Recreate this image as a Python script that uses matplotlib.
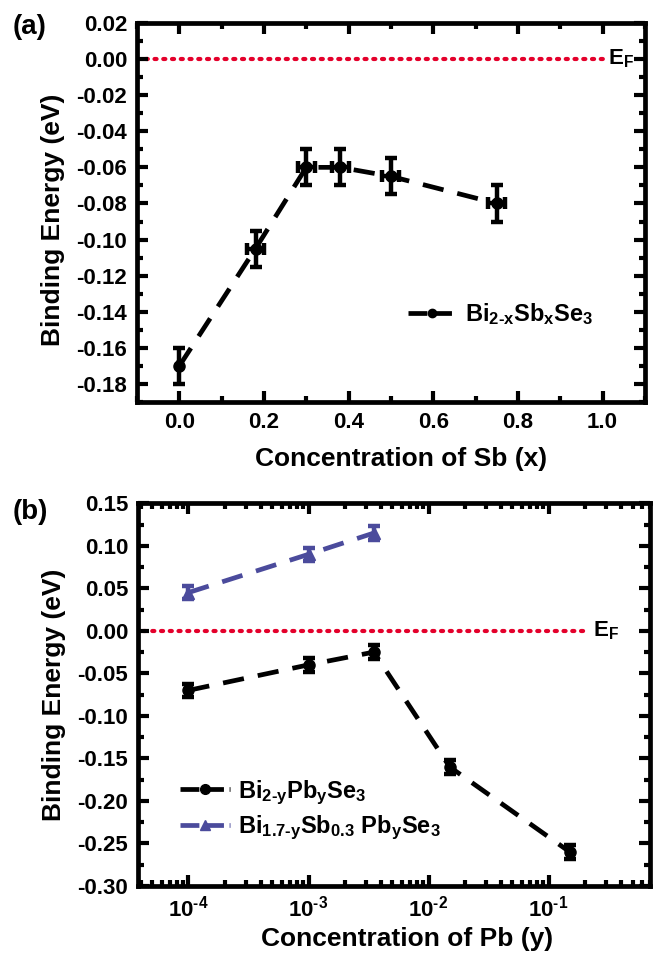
import numpy as np
import matplotlib
matplotlib.use("Agg")
import matplotlib.pyplot as plt
from matplotlib.lines import Line2D
from matplotlib.ticker import MultipleLocator, LogLocator, NullFormatter

plt.rcParams['font.family'] = ['Liberation Sans', 'DejaVu Sans']
plt.rcParams['font.weight'] = 'bold'
plt.rcParams['mathtext.fontset'] = 'custom'
plt.rcParams['mathtext.rm'] = 'Liberation Sans:bold'
plt.rcParams['mathtext.it'] = 'Liberation Sans:bold'
plt.rcParams['mathtext.bf'] = 'Liberation Sans:bold'
plt.rcParams['mathtext.default'] = 'rm'

# panel (a): Bi2-xSbxSe3
sb_x = [0.0, 0.18, 0.30, 0.38, 0.50, 0.75]
sb_e = [-0.17, -0.105, -0.06, -0.06, -0.065, -0.08]
sb_yerr = [0.01, 0.01, 0.01, 0.01, 0.01, 0.01]
sb_xerr = [0.0, 0.02, 0.02, 0.02, 0.02, 0.02]

# panel (b): Bi2-yPbySe3 and Bi1.7-ySb0.3PbySe3
pb_y = [1e-4, 1e-3, 0.0035, 0.015, 0.15]
pb_e = [-0.07, -0.04, -0.025, -0.16, -0.26]
pb_err = [0.008, 0.008, 0.008, 0.008, 0.008]
sbpb_y = [1e-4, 1e-3, 0.0035]
sbpb_e = [0.045, 0.09, 0.115]
sbpb_err = [0.008, 0.008, 0.008]

blue = '#4b4b9c'
red = '#e4002b'
dash = (0, (4.5, 3))

fig = plt.figure(figsize=(6.54, 9.55), dpi=100)
ax1 = fig.add_axes([0.2095, 0.579, 0.7765, 0.397])
ax2 = fig.add_axes([0.211, 0.0723, 0.783, 0.4007])

def style(ax):
    for s in ax.spines.values():
        s.set_linewidth(3.4)
    ax.tick_params(which='both', direction='in', top=True, right=True,
                   width=3, labelsize=16, pad=7)
    ax.tick_params(which='major', length=8)
    ax.tick_params(which='minor', length=4)
    for lab in ax.get_xticklabels() + ax.get_yticklabels():
        lab.set_fontweight('bold')

# ---- (a)
ax1.plot([-0.1, 1.0], [0, 0], color=red, lw=3, ls=(0, (0.5, 1.6)),
         dash_capstyle='round', zorder=1)
ax1.errorbar(sb_x, sb_e, yerr=sb_yerr, xerr=sb_xerr, fmt='o', color='black',
             ms=8, elinewidth=3.2, capsize=4.5, capthick=3.2, zorder=3)
ax1.plot(sb_x, sb_e, color='black', lw=3.4, ls=dash, zorder=2)
ax1.set_xlim(-0.1, 1.1)
ax1.set_ylim(-0.19, 0.02)
ax1.xaxis.set_major_locator(MultipleLocator(0.2))
ax1.xaxis.set_minor_locator(MultipleLocator(0.1))
ax1.yaxis.set_major_locator(MultipleLocator(0.02))
ax1.yaxis.set_minor_locator(MultipleLocator(0.01))
ax1.yaxis.set_major_formatter(plt.FuncFormatter(lambda v, p: f'{v:.2f}'))
ax1.xaxis.set_major_formatter(plt.FuncFormatter(lambda v, p: f'{v:.1f}'))
style(ax1)
ax1.set_xlabel('Concentration of Sb (x)', fontsize=19, fontweight='bold', labelpad=10)
ax1.xaxis.label.set_x(0.52)
ax1.set_ylabel('Binding Energy (eV)', fontsize=19, fontweight='bold', labelpad=8)
ax1.yaxis.label.set_y(0.48)
ax1.text(1.012, 0.0, 'E$_F$', fontsize=16, va='center', ha='left')
h1 = Line2D([], [], color='black', lw=3.4, ls=(0, (4, 1.2)), marker='o', ms=6)
ax1.legend([h1], [r'Bi$_{2\text{-}x}$Sb$_x$Se$_3$'], loc='center left',
           bbox_to_anchor=(0.491, 0.232), frameon=False, fontsize=17,
           handlelength=2.1, handletextpad=0.35)
fig.text(0.02, 0.985, '(a)', fontsize=20, fontweight='bold', va='top')

# ---- (b)
ax2.set_xscale('log')
ax2.plot([3e-5, 0.2], [0, 0], color=red, lw=3, ls=(0, (0.5, 1.6)),
         dash_capstyle='round', zorder=1)
ax2.errorbar(pb_y, pb_e, yerr=pb_err, fmt='o', color='black', ms=8,
             elinewidth=3.2, capsize=4.5, capthick=3.2, zorder=3)
ax2.plot(pb_y, pb_e, color='black', lw=3.4, ls=dash, zorder=2)
ax2.errorbar(sbpb_y, sbpb_e, yerr=sbpb_err, fmt='^', color=blue, ms=8,
             elinewidth=3.2, capsize=4.5, capthick=3.2, zorder=3)
ax2.plot(sbpb_y, sbpb_e, color=blue, lw=3.4, ls=dash, zorder=2)
ax2.set_xlim(3.8e-5, 0.7)
ax2.set_ylim(-0.30, 0.15)
ax2.xaxis.set_major_locator(LogLocator(base=10, numticks=10))
ax2.xaxis.set_minor_locator(LogLocator(base=10, subs=np.arange(2, 10), numticks=10))
ax2.xaxis.set_minor_formatter(NullFormatter())
ax2.yaxis.set_major_locator(MultipleLocator(0.05))
ax2.yaxis.set_minor_locator(MultipleLocator(0.025))
ax2.yaxis.set_major_formatter(plt.FuncFormatter(lambda v, p: f'{v:.2f}'))
ax2.xaxis.set_major_formatter(plt.FuncFormatter(
    lambda v, p: r'10$^{\text{-}%d}$' % round(-np.log10(v))))
style(ax2)
ax2.set_xlabel('Concentration of Pb (y)', fontsize=19, fontweight='bold', labelpad=4)
ax2.xaxis.label.set_x(0.525)
ax2.set_ylabel('Binding Energy (eV)', fontsize=19, fontweight='bold', labelpad=8)
ax2.text(0.235, 0.0, 'E$_F$', fontsize=16, va='center', ha='left')
h2 = Line2D([], [], color='black', lw=3.4, ls=(0, (4, 1.2)), marker='o', ms=7)
h3 = Line2D([], [], color=blue, lw=3.4, ls=(0, (4, 1.2)), marker='^', ms=7)
ax2.legend([h2, h3], [r'Bi$_{2\text{-}y}$Pb$_y$Se$_3$',
                      r'Bi$_{1.7\text{-}y}$Sb$_{0.3}$ Pb$_y$Se$_3$'],
           loc='center left', bbox_to_anchor=(0.041, 0.198), frameon=False,
           fontsize=17, handlelength=2.1, handletextpad=0.35, labelspacing=0.3)
fig.text(0.02, 0.478, '(b)', fontsize=20, fontweight='bold', va='top')

fig.savefig('out.png', dpi=100)
